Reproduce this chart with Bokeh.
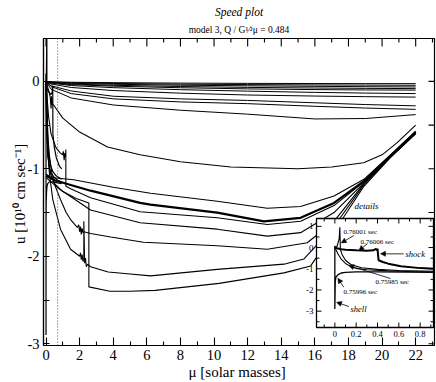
from bokeh.plotting import figure
from bokeh.models import (Range1d, FixedTicker, Label, Arrow, NormalHead, Title)
from bokeh.embed import file_html
from bokeh.resources import INLINE
from bokeh.core.properties import value

FONT = "Liberation Serif"

# ---------------------------------------------------------------- data
# main panel: mu [solar masses] vs u [1e10 cm/s]
XA = [0, 0.3, 1.5, 4, 8, 12, 16, 19, 22]
A1 = [0, -0.005, -0.010, -0.015, -0.020, -0.023, -0.025, -0.026, -0.026]
A2 = [0, -0.008, -0.016, -0.024, -0.032, -0.037, -0.041, -0.043, -0.045]
A3 = [0, -0.010, -0.022, -0.033, -0.044, -0.051, -0.057, -0.061, -0.064]
A4 = [0, -0.013, -0.030, -0.045, -0.059, -0.069, -0.076, -0.080, -0.083]
A5 = [0, -0.016, -0.037, -0.055, -0.073, -0.086, -0.094, -0.098, -0.100]
A6 = [0, -0.020, -0.048, -0.072, -0.095, -0.112, -0.126, -0.134, -0.140]
A7 = [0, -0.030, -0.070, -0.105, -0.135, -0.156, -0.168, -0.175, -0.180]
A8 = [0, -0.050, -0.110, -0.170, -0.200, -0.218, -0.245, -0.265, -0.280]
A9 = [0, -0.060, -0.140, -0.200, -0.235, -0.255, -0.285, -0.305, -0.320]
A10 = [0, -0.090, -0.190, -0.270, -0.330, -0.375, -0.430, -0.425, -0.380]
A_CURVES = [A1, A2, A3, A4, A5, A6, A7, A8, A9, A10]

XB = [0, 0.15, 0.25, 0.3, 0.33, 0.37, 0.45, 1, 2, 3.66, 5.6, 8, 11, 15, 17,
      18.9, 20, 20.9, 22]
YB = [0, -0.10, -0.18, -0.31, -0.17, -0.26, -0.27, -0.42, -0.58, -0.75,
      -0.84, -0.92, -0.98, -1.0, -0.98, -0.93, -0.84, -0.70, -0.50]

XC1 = [0.0, 0.3, 1.65, 4, 6.22, 10.19, 13.17, 15.15, 17.14, 18.92, 20.5, 22]
YC1 = [-1.06, -1.10, -1.125, -1.21, -1.28, -1.37, -1.45, -1.43, -1.31, -1.12,
       -0.84, -0.57]

XC2 = [0.0, 0.5, 2.65, 5.6, 6.22, 10.19, 12.97, 15.15, 17.14, 18.92, 20.5, 22]
YC2 = [-1.08, -1.13, -1.25, -1.39, -1.41, -1.50, -1.60, -1.56, -1.39, -1.14,
       -0.85, -0.58]

XC3 = [0, 0.05, 0.15, 0.3, 0.6, 0.86, 0.98, 1.03, 1.08, 1.12, 1.16, 1.18,
       1.18, 1.5, 2.65, 5.6, 10.19, 13.17, 15.15, 17.14, 18.92, 20.5, 22]
YC3 = [0, -0.15, -0.40, -0.60, -0.76, -0.82, -0.84, -0.80, -0.90, -0.82,
       -0.86, -0.78, -1.20, -1.23, -1.33, -1.49, -1.56, -1.636, -1.60, -1.42,
       -1.15, -0.85, -0.585]

XC4 = [0.0, 0.3, 0.86, 2.65, 5.6, 10.19, 13.17, 15.15, 17.14, 18.92, 20.5, 22]
YC4 = [-1.10, -1.15, -1.24, -1.47, -1.617, -1.69, -1.77, -1.73, -1.50, -1.16,
       -0.86, -0.59]

XC5 = [0, 0.04, 0.1, 0.2, 0.35, 0.55, 0.86, 1.2, 1.46, 1.86, 1.95, 2.0, 2.05,
       2.1, 2.15, 2.2, 2.25, 2.65, 3.85, 5.8, 10.19, 13.17, 15.55, 17.14,
       18.92, 20.5, 22]
YC5 = [0, -0.30, -0.60, -0.85, -1.05, -1.20, -1.35, -1.50, -1.58, -1.67,
       -1.64, -1.72, -1.66, -1.75, -1.68, -1.73, -1.72, -1.74, -1.78, -1.84,
       -1.88, -1.92, -1.845, -1.60, -1.17, -0.86, -0.59]

XC6 = [0, 0.03, 0.08, 0.2, 0.4, 0.86, 1.46, 2.0, 2.05, 2.1, 2.15, 2.2, 2.25,
       2.25, 2.3, 2.35, 2.4, 2.47, 2.65, 3.7, 4.85, 6.22, 10.19, 14.16, 15.35,
       17.14, 18.92, 20.5, 22]
YC6 = [0, -0.40, -0.70, -1.05, -1.35, -1.69, -1.92, -2.00, -1.96, -2.04,
       -1.98, -2.06, -2.03, -1.60, -2.08, -2.02, -2.12, -2.09, -2.12, -2.18,
       -2.20, -2.224, -2.15, -2.09, -2.03, -1.66, -1.18, -0.87, -0.595]

XC7 = [0, 0.03, 0.1, 0.25, 0.5, 1.0, 1.8, 2.55, 2.55, 3.8, 5.0, 6.5, 10.3,
       14.16, 15.75, 17.14, 18.92, 20.5, 22]
YC7 = [0, -0.50, -0.85, -1.05, -1.17, -1.26, -1.34, -1.39, -2.35, -2.40,
       -2.40, -2.39, -2.31, -2.19, -2.11, -1.72, -1.20, -0.87, -0.60]

# detail panel (early times, same quantities)
XTA = [0.0, 0.02, 0.04, 0.047, 0.052, 0.07, 0.1, 0.15, 0.25, 0.4, 0.6, 0.93]
YTA = [0.0, 0.05, 0.40, 0.96, -0.10, -0.35, -0.60, -0.80, -0.95, -1.03,
       -1.08, -1.12]
XTB = [0.0, 0.02, 0.06, 0.1, 0.2, 0.3, 0.36, 0.385, 0.395, 0.40, 0.41, 0.45,
       0.5, 0.62, 0.8, 0.93]
YTB = [0.0, -0.03, -0.08, -0.10, -0.13, -0.15, -0.13, -0.06, -0.12, -0.05,
       -0.60, -0.68, -0.76, -0.88, -0.97, -1.00]
XTC = [0.0, 0.015, 0.03, 0.06, 0.1, 0.15, 0.2, 0.3, 0.5, 0.7, 0.93]
YTC = [0.0, -0.15, -0.30, -0.55, -0.75, -0.90, -0.98, -1.05, -1.10, -1.13,
       -1.15]
XTD = [0.0, 0.0, 0.004, 0.01, 0.03, 0.06, 0.1, 0.2, 0.4, 0.7, 0.93]
YTD = [0.09, -2.90, -1.60, -1.40, -1.28, -1.20, -1.17, -1.15, -1.15, -1.16,
       -1.17]
DETAIL_CURVES = [(XTA, YTA, 1.1), (XTB, YTB, 2.0), (XTC, YTC, 1.1),
                 (XTD, YTD, 1.3)]
DETAIL_NOTES = ["0.76001 sec", "0.76006 sec", "0.75985 sec", "0.75996 sec"]

# ticks
XTICKS = [0, 2, 4, 6, 8, 10, 12, 14, 16, 18, 20, 22]
XMINOR = [1, 3, 5, 7, 9, 11, 13, 15, 17, 19, 21, 23]
YTICKS = [-3, -2, -1, 0]
YMINOR = [-2.5, -1.5, -0.5]
YTICK_LABELS = {-3: "-3", -2: "-2", -1: "-1", 0: "0"}
IXTICKS = [0, 0.2, 0.4, 0.6, 0.8]
IXTICK_LABELS = ["0", "0.2", "0.4", "0.6", "0.8"]
IXMINOR = [-0.1, 0.1, 0.3, 0.5, 0.7, 0.9]
IYTICKS = [-3, -2, -1, 0, 1]
IYTICK_LABELS = ["-3", "-2", "-1", "0", "1"]
IYMINOR = [-3.5, -2.5, -1.5, -0.5, 0.5]

# ---------------------------------------------------------------- layout
W, H = 436, 382
FL, FR, FT, FB = 43, 434, 38, 345          # frame in figure pixels
X0, X1 = -0.15, 23.12
Y0, Y1 = -3.02, 0.49


def dx(px):   # figure pixel -> data x
    return X0 + (px - FL) * (X1 - X0) / (FR - FL)


def dy(py):   # figure pixel -> data y
    return Y1 - (py - FT) * (Y1 - Y0) / (FB - FT)


PPX = (FR - FL) / (X1 - X0)
PPY = (FB - FT) / (Y1 - Y0)

p = figure(width=W, height=H, x_range=Range1d(X0, X1), y_range=Range1d(Y0, Y1),
           output_backend="svg", toolbar_location=None, title=None,
           min_border_left=FL, min_border_right=W - FR, min_border_top=FT,
           min_border_bottom=H - FB)
p.xgrid.visible = False
p.ygrid.visible = False
p.outline_line_color = "black"
p.outline_line_width = 1.2
p.background_fill_color = "white"
p.border_fill_color = "white"

sub_title = Title(text="model 3, Q / G\u00b9\u2044\u00b2\u03bc = 0.484",
                  align="center", text_font=FONT, text_font_size="9.5px",
                  text_font_style="normal", text_color="black", standoff=8)
p.add_layout(sub_title, "above")
main_title = Title(text="Speed plot", align="center", text_font=FONT,
                   text_font_size="11.5px", text_font_style="italic",
                   text_color="black", standoff=2)
p.add_layout(main_title, "above")


def style_axis(ax, ticks, minor, maj_in, min_in):
    ax.ticker = FixedTicker(ticks=ticks, minor_ticks=minor)
    ax.major_tick_in = maj_in
    ax.major_tick_out = 0
    ax.minor_tick_in = min_in
    ax.minor_tick_out = 0
    ax.axis_line_color = "black"
    ax.axis_line_width = 1.2
    ax.major_tick_line_width = 1.1
    ax.minor_tick_line_width = 1.1
    ax.major_tick_line_color = "black"
    ax.minor_tick_line_color = "black"
    ax.major_label_text_font = FONT
    ax.major_label_text_font_size = "14.5px"
    ax.major_label_text_color = "black"
    ax.major_label_standoff = 4
    ax.axis_label_text_font = FONT
    ax.axis_label_text_font_style = "normal"
    ax.axis_label_text_color = "black"


xax = p.xaxis[0]
style_axis(xax, XTICKS, XMINOR, 8, 4)
xax.axis_label = "\u03bc  [solar masses]"
xax.axis_label_text_font_size = "15px"
xax.axis_label_standoff = 1
yax = p.yaxis[0]
style_axis(yax, YTICKS, YMINOR, 6, 6)
yax.major_label_overrides = YTICK_LABELS
yax.axis_label = "u  [10\u00b9\u2070 cm sec\u207b\u00b9]"
yax.axis_label_text_font_size = "15px"
yax.axis_label_standoff = -4

# mirrored ticks on the top and right frame edges
p.segment(x0=XTICKS, y0=[Y1] * len(XTICKS), x1=XTICKS,
          y1=[Y1 - 8 / PPY] * len(XTICKS), line_color="black", line_width=1.1)
p.segment(x0=XMINOR, y0=[Y1] * len(XMINOR), x1=XMINOR,
          y1=[Y1 - 4 / PPY] * len(XMINOR), line_color="black", line_width=1.1)
RY = YTICKS + YMINOR
p.segment(x0=[X1] * len(RY), y0=RY, x1=[X1 - 6 / PPX] * len(RY), y1=RY,
          line_color="black", line_width=1.1)

# ---------------------------------------------------------------- main curves
for ys in A_CURVES:
    p.line(XA, ys, line_color="black", line_width=1.0)
p.line(XB, YB, line_color="black", line_width=1.1)
for xs, ys in [(XC1, YC1), (XC3, YC3), (XC4, YC4), (XC5, YC5), (XC6, YC6),
               (XC7, YC7)]:
    p.line(xs, ys, line_color="black", line_width=1.1)
p.line(XC2, YC2, line_color="black", line_width=2.2)
for xs, ys, lw in DETAIL_CURVES:
    p.line(xs, ys, line_color="black", line_width=1.2)

# dotted box around mu = 0 (part inside the frame)
BX0, BX1 = -0.51, 0.69
p.line([BX1, BX1], [Y0, Y1], line_color="#555555", line_width=1,
       line_dash="1 2")

# ---------------------------------------------------------------- inset
IXS0, IXS1 = -0.172, 0.925
IYS0, IYS1 = -3.77, 1.37
I_L, I_R, I_T, I_B = 316, 433, 218, 327       # inset frame, figure pixels
ixt0, ixt1 = dx(I_L), dx(I_R)
iyt0, iyt1 = dy(I_B), dy(I_T)
ins = p.subplot(x_source=Range1d(IXS0, IXS1), y_source=Range1d(IYS0, IYS1),
                x_target=Range1d(ixt0, ixt1), y_target=Range1d(iyt0, iyt1))
IPX = (I_R - I_L) / (IXS1 - IXS0)
IPY = (I_B - I_T) / (IYS1 - IYS0)


def im(x, y):   # inset data -> main data
    return (ixt0 + (x - IXS0) * (ixt1 - ixt0) / (IXS1 - IXS0),
            iyt0 + (y - IYS0) * (iyt1 - iyt0) / (IYS1 - IYS0))


ins.quad(left=[IXS0], right=[IXS1], bottom=[IYS0], top=[IYS1],
         fill_color="white", line_color=None)
for xs, ys, lw in DETAIL_CURVES:
    ins.line(xs, ys, line_color="black", line_width=lw)

# inset ticks
mj_x, mn_x = 5 / IPY, 3 / IPY
mj_y, mn_y = 5 / IPX, 3 / IPX
for t, ln in [(t, mj_x) for t in IXTICKS] + [(t, mn_x) for t in IXMINOR]:
    ins.segment(x0=[t, t], y0=[IYS0, IYS1], x1=[t, t], y1=[IYS0 + ln, IYS1 - ln],
                line_color="black", line_width=1)
for t, ln in [(t, mj_y) for t in IYTICKS] + [(t, mn_y) for t in IYMINOR]:
    ins.segment(x0=[IXS0, IXS1], y0=[t, t], x1=[IXS0 + ln, IXS1 - ln], y1=[t, t],
                line_color="black", line_width=1)
ins.quad(left=[IXS0], right=[IXS1], bottom=[IYS0], top=[IYS1],
         fill_color=None, line_color="black", line_width=1.3)
ins.text(x=IXTICKS, y=[IYS0 - 6 / IPY] * len(IXTICKS), text=IXTICK_LABELS,
         text_font=value(FONT), text_font_size="8.5px", text_align="center",
         text_baseline="middle", text_color="#000000")
ins.text(x=[IXS0 - 3 / IPX] * len(IYTICKS), y=IYTICKS, text=IYTICK_LABELS,
         text_font=value(FONT), text_font_size="9px", text_align="right",
         text_baseline="middle", text_color="#000000")

# notes inside inset
note_pos = [(0.082, 0.755), (0.241, 0.25), (0.381, -1.637), (0.082, -2.075)]
ins.text(x=[q[0] for q in note_pos], y=[q[1] for q in note_pos],
         text=DETAIL_NOTES, text_font=value(FONT), text_font_size="7px",
         text_align="left", text_baseline="middle", text_color="#000000")
ins.text(x=[0.663, 0.147], y=[-0.283, -2.89], text=["shock", "shell"],
         text_font=value(FONT), text_font_size="8.5px", text_font_style="italic",
         text_align="left", text_baseline="middle", text_color="#000000")
arrows = [((0.178, 0.566), (0.06, 0.22)), ((0.304, 0.175), (0.225, -0.14)),
          ((0.644, -0.297), (0.428, -0.297)), ((0.522, -1.46), (0.131, -0.85)),
          ((0.084, -1.87), (0.028, -1.45)), ((0.131, -2.78), (0.016, -2.58))]
for (xa, ya), (xb, yb) in arrows:
    sx, sy = im(xa, ya)
    ex, ey = im(xb, yb)
    p.add_layout(Arrow(x_start=sx, y_start=sy, x_end=ex, y_end=ey,
                       line_width=0.8, line_color="black",
                       end=NormalHead(size=5, fill_color="black",
                                      line_color="black", line_width=0.5)))

# inset title
p.add_layout(Label(x=dx(366), y=dy(205), text="details", text_font=FONT,
                   text_font_size="9px", text_font_style="italic",
                   text_align="center", text_baseline="middle",
                   text_color="black"))

open("out.html", "w").write(file_html(p, INLINE))
